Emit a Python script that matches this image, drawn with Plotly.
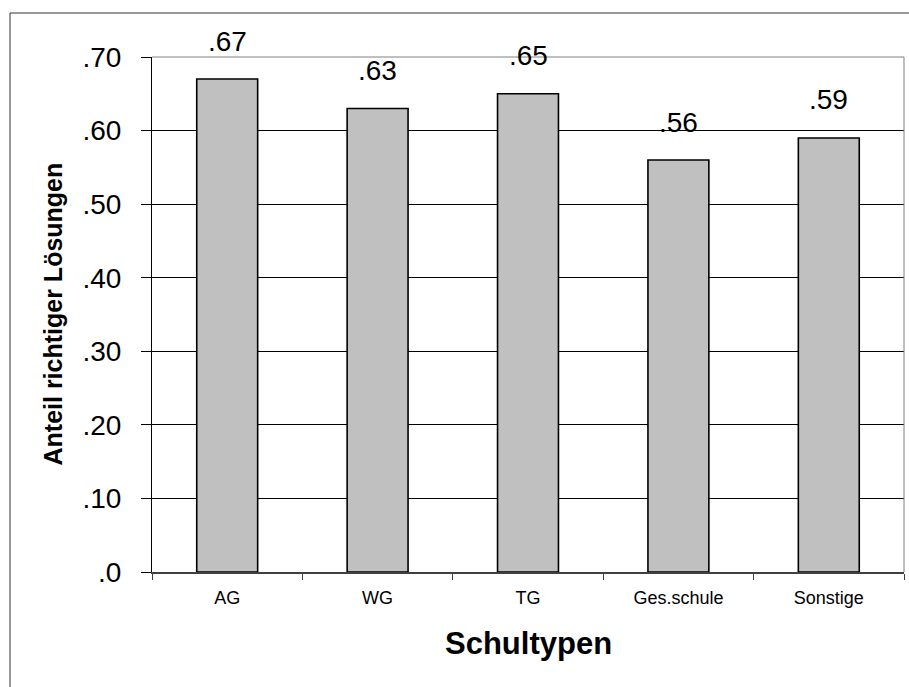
import plotly.graph_objects as go

categories = ["AG", "WG", "TG", "Ges.schule", "Sonstige"]
values = [0.67, 0.63, 0.65, 0.56, 0.59]
y_tickvals = [0.0, 0.1, 0.2, 0.3, 0.4, 0.5, 0.6, 0.7]
y_ticktext = [".0", ".10", ".20", ".30", ".40", ".50", ".60", ".70"]

FONT = "Liberation Sans, Arial, sans-serif"

# plot area pixels
L, R, T, B = 152, 5, 57, 115
W = 909 - L - R
H = 687 - T - B

fig = go.Figure()
fig.add_trace(go.Bar(
    x=categories, y=values,
    marker=dict(color="#C0C0C0", line=dict(color="#000000", width=1.6)),
    hoverinfo="skip",
))

for c, v in zip(categories, values):
    fig.add_annotation(x=c, y=v, xref="x", yref="y",
                       text=f"{v:.2f}".lstrip("0"),
                       showarrow=False, yanchor="middle", yshift=38,
                       font=dict(family=FONT, size=28, color="#000000"))

# axis titles
fig.add_annotation(xref="paper", yref="paper", x=0, y=0.5, xshift=-100,
                   text="<b>Anteil richtiger Lösungen</b>", textangle=-90,
                   showarrow=False, xanchor="center", yanchor="middle",
                   font=dict(family=FONT, size=25, color="#000000"))
fig.add_annotation(xref="paper", yref="paper", x=0.5, y=0, yshift=-71,
                   text="<b>Schultypen</b>",
                   showarrow=False, xanchor="center", yanchor="middle",
                   font=dict(family=FONT, size=31, color="#000000"))

# plot area border (top/right, grey)
fig.add_shape(type="line", xref="paper", yref="paper", x0=0, x1=1, y0=1, y1=1,
              line=dict(color="#808080", width=1), layer="above")
fig.add_shape(type="line", xref="paper", yref="paper", x0=1, x1=1, y0=0, y1=1,
              line=dict(color="#808080", width=1), layer="above")

# outer chart border
fig.add_shape(type="rect", xref="paper", yref="paper",
              x0=(10 - L) / W, x1=(915 - L) / W,
              y0=(H + T - 695) / H, y1=(H + T - 13) / H,
              line=dict(color="#333333", width=1), layer="below")

fig.update_layout(
    width=909, height=687,
    margin=dict(l=L, r=R, t=T, b=B, pad=0),
    paper_bgcolor="white", plot_bgcolor="white",
    bargap=0.595, showlegend=False,
    font=dict(family=FONT, color="#000000"),
    xaxis=dict(
        type="category", tickson="boundaries", ticks="outside", ticklen=6,
        tickcolor="#404040", tickwidth=1,
        showline=True, linecolor="#404040", linewidth=2,
        showgrid=False, tickfont=dict(family=FONT, size=18, color="#000000"),
        ticklabelstandoff=8, fixedrange=True,
    ),
    yaxis=dict(
        range=[0, 0.7], tickvals=y_tickvals, ticktext=y_ticktext,
        ticks="outside", ticklen=10, tickcolor="#000000", tickwidth=1,
        showline=True, linecolor="#000000", linewidth=1,
        showgrid=True, gridcolor="#000000", gridwidth=1,
        zeroline=False,
        tickfont=dict(family=FONT, size=28, color="#000000"),
        ticklabelstandoff=14, fixedrange=True,
    ),
)

fig.write_html("out.html", config={"displayModeBar": False},
               post_script="document.body.style.margin='0px';document.body.style.overflow='hidden';")
